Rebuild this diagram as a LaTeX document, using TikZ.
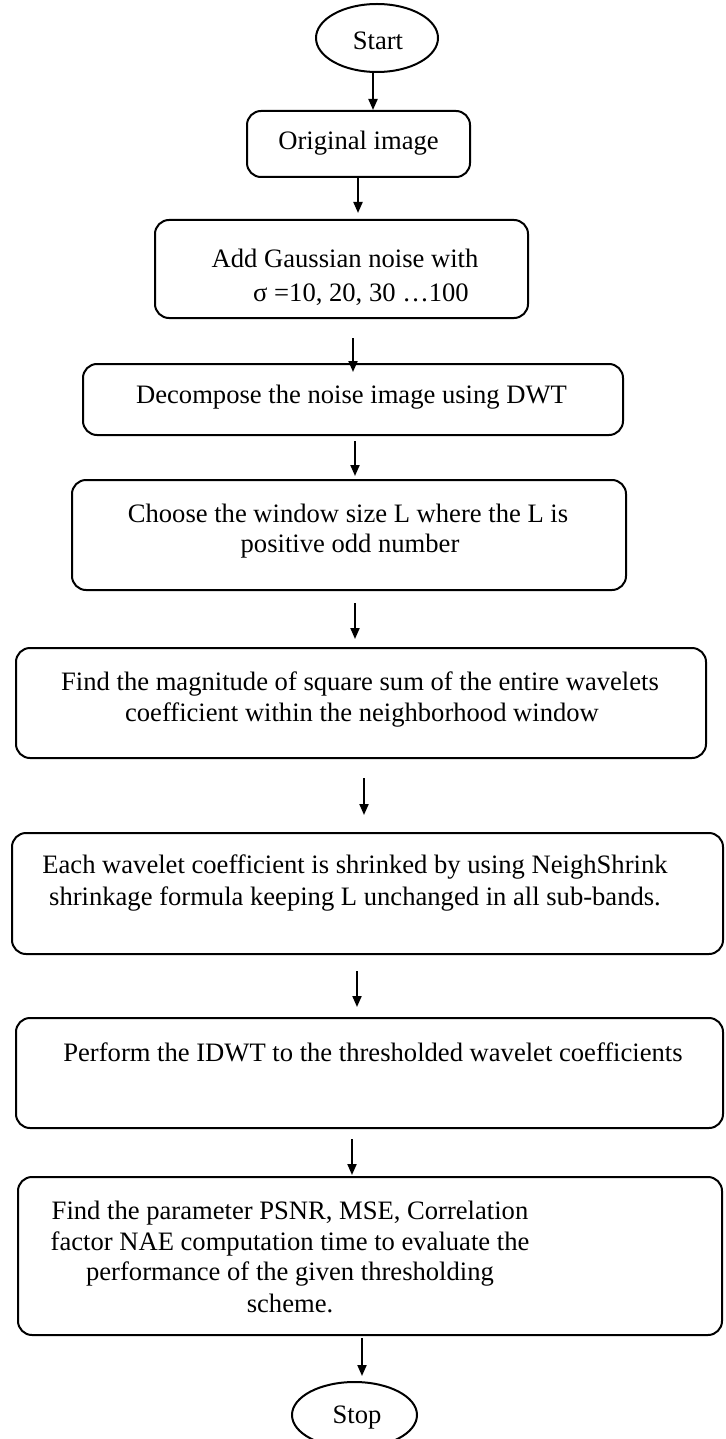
\documentclass[tikz,border=0pt]{standalone}
\usepackage{fontspec}
\setmainfont{Liberation Serif}
\usetikzlibrary{shapes.geometric,arrows.meta}
\begin{document}
\begin{tikzpicture}[x=1pt,y=-1pt,
  box/.style={draw, line width=2pt, rounded corners=14pt, inner sep=0pt},
  oval/.style={draw, ellipse, line width=2pt, inner sep=0pt},
  txt/.style={inner sep=0pt, anchor=base, font=\fontsize{26.6}{32}\selectfont},
  arr/.style={line width=2pt, -{Triangle[length=11pt,width=9pt]}}]
\useasboundingbox (0,0) rectangle (725,1439);

% outlines of the steps
\node[oval, minimum width=122pt, minimum height=68pt] (start) at (377,38) {};
\node[box, minimum width=223pt, minimum height=66pt] (orig) at (358.5,144) {};
\node[box, minimum width=373pt, minimum height=98pt] (noise) at (341.5,269) {};
\node[box, minimum width=540pt, minimum height=71pt] (dwt) at (353,399.5) {};
\node[box, minimum width=554pt, minimum height=110pt] (win) at (349,535) {};
\node[box, minimum width=690pt, minimum height=110pt] (mag) at (361,703) {};
\node[box, minimum width=711pt, minimum height=121pt] (shrink) at (367.5,893.5) {};
\node[box, minimum width=707pt, minimum height=110pt] (idwt) at (369.5,1073) {};
\node[box, minimum width=704pt, minimum height=158pt] (eval) at (370,1256) {};
\node[oval, minimum width=125pt, minimum height=66pt] (stop) at (354.5,1415) {};

% texts of the steps
\node[txt] (tstart) at (378,50) {Start};
\node[txt] (torig) at (358.5,150) {Original image};
\node[txt] (tnoiseA) at (345,268) {Add Gaussian noise with};
\node[txt] (tnoiseB) at (361,301) {σ =10, 20, 30 …100};
\node[txt] (tdwt) at (351.5,403) {Decompose the noise image using DWT};
\node[txt] (twinA) at (348,522) {Choose the window size L where the L is};
\node[txt] (twinB) at (350,552) {positive odd number};
\node[txt] (tmagA) at (360,690) {Find the magnitude of square sum of the entire wavelets};
\node[txt] (tmagB) at (362,721) {coefficient within the neighborhood window};
\node[txt] (tshrA) at (355,873) {Each wavelet coefficient is shrinked by using NeighShrink};
\node[txt] (tshrB) at (355,905) {shrinkage formula keeping L unchanged in all sub-bands.};
\node[txt] (tidwt) at (373,1061) {Perform the IDWT to the thresholded wavelet coefficients};
\node[txt] (tevalA) at (290,1219) {Find the parameter PSNR, MSE, Correlation};
\node[txt] (tevalB) at (290,1250) {factor NAE computation time to evaluate the};
\node[txt] (tevalC) at (290,1280) {performance of the given thresholding};
\node[txt] (tevalD) at (290,1312) {scheme.};
\node[txt] (tstop) at (357,1423) {Stop};

% flow arrows
\draw[arr] (start.south -| 373,0) -- (orig.north -| 373,0);
\draw[arr, shorten >=6pt] (orig.south -| 358,0) -- (noise.north -| 358,0);
\draw[arr, shorten <=19pt, shorten >=-9pt] (noise.south -| 353,0) -- (dwt.north -| 353,0);
\draw[arr, shorten <=5pt, shorten >=3pt] (dwt.south -| 355,0) -- (win.north -| 355,0);
\draw[arr, shorten <=12pt, shorten >=8pt] (win.south -| 355,0) -- (mag.north -| 355,0);
\draw[arr, shorten <=19pt, shorten >=17pt] (mag.south -| 364,0) -- (shrink.north -| 364,0);
\draw[arr, shorten <=16pt, shorten >=10pt] (shrink.south -| 357,0) -- (idwt.north -| 357,0);
\draw[arr, shorten <=10pt, shorten >=1pt] (idwt.south -| 352,0) -- (eval.north -| 352,0);
\draw[arr, shorten <=2pt, shorten >=5pt] (eval.south -| 362,0) -- (stop.north -| 362,0);
\end{tikzpicture}
\end{document}
